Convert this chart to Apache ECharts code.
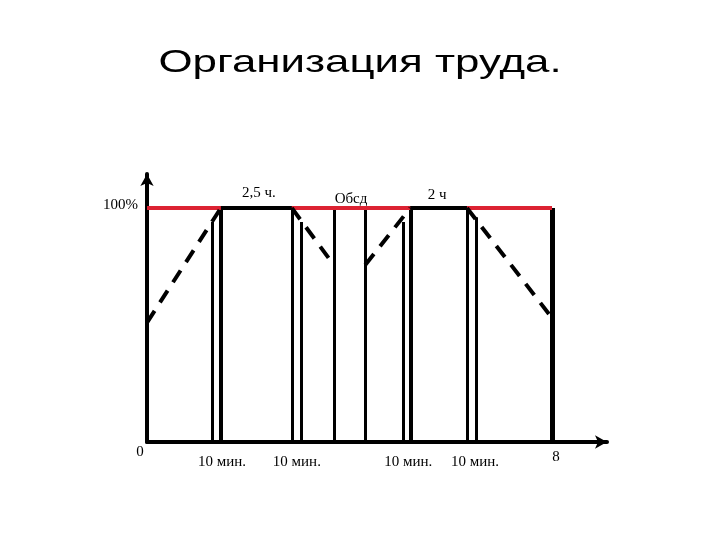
<!DOCTYPE html>
<html>
<head>
<meta charset="utf-8">
<script src="https://cdn.jsdelivr.net/npm/echarts@6/dist/echarts.min.js"></script>
<style>
html,body{margin:0;padding:0;background:#fff;}
#chart{width:720px;height:540px;}
</style>
</head>
<body>
<div id="chart"></div>
<script>
// ---- data (hours of the shift on x, work capacity in % on y) ----
const titleText = 'Организация труда.';
const normLevel = [[0, 100], [8, 100]];
const plateau1 = [[1.46, 100], [2.86, 100]];
const plateau2 = [[5.2, 100], [6.32, 100]];
const warmUp1 = [[0, 51], [1.46, 100]];
const fatigue1 = [[2.86, 100], [3.69, 75.6]];
const warmUp2 = [[4.31, 75.6], [5.2, 100]];
const fatigue2 = [[6.32, 100], [8, 53]];
const markHours = [1.28, 1.46, 2.86, 3.04, 3.69, 4.31, 5.06, 5.2, 6.32, 6.5, 8];
const markTops = [94, 100, 100, 94, 100, 100, 94, 100, 100, 96, 100];
const breakLabels = ['10 мин.', '10 мин.', '10 мин.', '10 мин.'];
const breakLabelHours = [1.48, 2.96, 5.16, 6.48];
const periodLabels = ['2,5 ч.', 'Обсд', '2 ч'];
const periodLabelHours = [2.21, 4.03, 5.73];
const yTickLabels = ['0', '100%'];
const endHourLabel = '8';

// ---- styles ----
const markWidths = [3, 4, 3, 3, 3, 3, 3, 4, 3, 3, 5];
const periodOffsets = [-15, -9, -13];
const serif = 'Liberation Serif';

const chart = echarts.init(document.getElementById('chart'));

const verticals = markHours.map((h, i) => ({
  coords: [[h, 0], [h, markTops[i]]],
  lineStyle: { width: markWidths[i] }
}));

function dashed(data) {
  return {
    type: 'line', data: data, symbol: 'none', silent: true, animation: false, z: 4,
    lineStyle: { color: '#000', width: 4, type: [14, 10], cap: 'butt' }
  };
}

chart.setOption({
  animation: false,
  grid: { left: 147, right: 113, top: 174, bottom: 98, containLabel: false },
  xAxis: {
    type: 'value', min: 0, max: 9.086,
    axisLine: { show: true, symbol: ['none', 'arrow'], symbolSize: [10, 12],
      lineStyle: { color: '#000', width: 4 } },
    axisTick: { show: false }, axisLabel: { show: false }, splitLine: { show: false }
  },
  yAxis: {
    type: 'value', min: 0, max: 114.5,
    axisLine: { show: true, symbol: ['none', 'arrow'], symbolSize: [10, 12],
      lineStyle: { color: '#000', width: 4 } },
    axisTick: { show: false }, axisLabel: { show: false }, splitLine: { show: false }
  },
  series: [
    { type: 'lines', coordinateSystem: 'cartesian2d', polyline: false, silent: true, z: 2,
      lineStyle: { color: '#000', width: 3, opacity: 1 }, data: verticals },
    { type: 'line', data: normLevel, symbol: 'none', z: 3,
      lineStyle: { color: '#dc2232', width: 4 } },
    { type: 'line', data: plateau1, symbol: 'none', z: 5,
      lineStyle: { color: '#000', width: 4 } },
    { type: 'line', data: plateau2, symbol: 'none', z: 5,
      lineStyle: { color: '#000', width: 4 } },
    dashed(warmUp1), dashed(fatigue1), dashed(warmUp2), dashed(fatigue2)
  ]
});

function px(x, y) { return chart.convertToPixel({ gridIndex: 0 }, [x, y]); }
function label(text, p, dx, dy, align, size) {
  return {
    type: 'text', x: p[0] + dx, y: p[1] + dy, z: 10,
    style: { text: text, font: (size || 15) + 'px "' + serif + '"', fill: '#000',
      textAlign: align || 'center', textVerticalAlign: 'middle' }
  };
}

const graphics = [];
graphics.push({
  type: 'text', x: 360, y: 63, scaleX: 1.37, z: 10,
  style: { text: titleText, font: '32px "Liberation Sans"', fill: '#000',
    textAlign: 'center', textVerticalAlign: 'middle' }
});
graphics.push(label(yTickLabels[1], px(0, 100), -9, -3, 'right'));
graphics.push(label(yTickLabels[0], px(0, 0), -7, 10, 'center'));
graphics.push(label(endHourLabel, px(8, 0), 4, 15, 'center'));
breakLabels.forEach((t, i) => graphics.push(label(t, px(breakLabelHours[i], 0), 0, 20, 'center')));
periodLabels.forEach((t, i) => graphics.push(label(t, px(periodLabelHours[i], 100), 0, periodOffsets[i], 'center')));
chart.setOption({ graphic: graphics });
</script>
</body>
</html>
